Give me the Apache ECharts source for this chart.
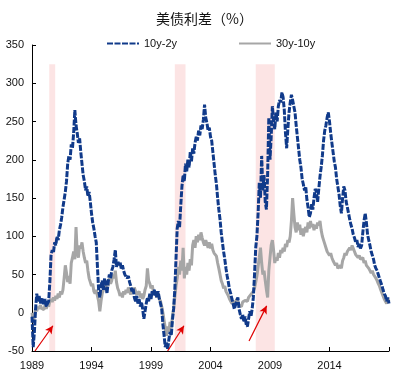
<!DOCTYPE html>
<html><head><meta charset="utf-8">
<script src="https://cdn.jsdelivr.net/npm/echarts@6/dist/echarts.min.js"></script>
<style>html,body{margin:0;padding:0;background:#fff}#c{width:409px;height:387px}</style>
</head><body><div id="c"></div>
<script>
// sample grid: one value every 0.1 year starting 1989.0
const startYear = 1989;
const stepYear = 0.1;

const spread10y2y = [
 -5,-45,-25,5,25,15,22,12,20,15,
 10,18,8,12,15,40,75,82,78,92,
 88,100,95,108,115,125,138,148,158,172,
 195,205,200,220,215,235,265,245,235,222,
 228,210,195,180,172,160,165,152,158,145,
 130,118,110,100,92,60,30,20,35,42,
 30,45,38,25,40,50,45,55,60,70,
 82,60,68,62,66,58,62,55,50,52,
 45,48,40,35,28,32,20,15,22,12,
 18,8,14,5,-8,2,12,20,15,25,
 18,28,22,30,25,20,28,18,12,5,
 -15,-30,-45,-38,-48,-35,-25,-30,-10,5,
 30,70,110,120,112,140,165,180,172,195,
 185,200,190,210,198,215,208,222,230,225,
 238,232,245,240,252,272,255,248,238,242,
 230,225,210,195,180,168,150,135,122,105,
 92,80,70,58,48,40,30,25,18,12,
 5,10,15,20,5,-2,-8,-2,-12,-5,
 -15,-18,-8,2,-5,5,20,50,85,100,
 130,170,150,205,160,180,145,135,180,255,
 200,230,270,250,240,262,250,270,278,275,
 288,282,265,235,215,240,262,275,285,278,
 270,262,245,230,215,200,190,175,168,160,
 165,148,138,125,130,142,135,150,162,158,
 145,162,178,190,205,225,238,245,255,262,
 250,235,222,210,198,190,175,165,155,140,
 130,150,165,160,145,138,130,122,115,110,
 102,98,92,95,86,90,84,88,105,120,
 130,118,102,95,88,80,75,70,62,58,
 55,50,45,40,36,30,25,22,15,20,
 12
];

const spread30y10y = [
 0,-12,-5,5,2,8,5,10,6,8,
 4,10,5,12,8,15,18,14,20,16,
 22,18,25,20,28,24,30,45,62,52,
 40,48,38,65,72,80,70,112,78,72,
 88,84,92,80,72,65,68,55,45,40,
 35,38,28,25,30,22,15,2,15,25,
 30,38,32,42,35,45,38,42,50,45,
 55,40,32,28,22,26,20,28,24,30,
 26,33,28,24,30,26,33,28,24,22,
 28,20,25,18,22,30,35,58,42,38,
 32,36,28,30,24,20,25,18,15,8,
 0,-10,-20,-30,-18,-25,-12,-20,-5,5,
 20,35,45,60,50,68,55,85,45,60,
 50,65,55,70,62,88,95,85,100,92,
 102,95,105,98,92,88,95,90,85,92,
 84,90,82,78,80,74,65,58,50,42,
 38,32,35,28,25,22,18,15,12,10,
 15,12,18,15,10,12,8,14,12,16,
 18,15,20,18,24,22,28,32,40,48,
 60,72,85,65,50,55,42,30,20,55,
 72,88,95,82,65,72,68,78,72,82,
 78,85,80,90,86,95,92,100,120,150,
 130,112,105,118,108,115,102,110,100,108,
 112,105,118,110,120,112,116,108,115,110,
 118,114,120,108,100,95,90,85,80,82,
 75,78,72,68,70,62,65,58,60,62,
 58,68,72,78,75,80,78,85,82,88,
 84,80,76,78,72,75,70,68,72,65,
 68,62,60,58,55,52,55,50,48,45,
 42,38,35,30,28,22,18,15,12,18,
 15
];

const seriesNames = ['10y-2y', '30y-10y'];
const titleText = '美债利差（%）';
const xRange = [1989, 2019];
const xInterval = 5;
const yRange = [-50, 350];
const yInterval = 50;
const recessions = [[1990.45, 1990.95], [2001.0, 2001.9], [2007.8, 2009.4]];
const shadeRange = [-50, 325];
const arrows = [
  [[1989.25, -50], [1990.76, -17]],
  [[2000.4, -50], [2001.77, -17]],
  [[2007.24, -37], [2008.72, 9]]
];

function pairs(vals) {
  return vals.map((v, i) => [+(startYear + i * stepYear).toFixed(2), v]);
}

const blue = '#103A8A';
const gray = '#A6A6A6';
const numFont = 'Liberation Sans';

const legendCommon = {
  top: 38, padding: 0, itemWidth: 32, itemHeight: 12,
  itemStyle: {opacity: 0},
  textStyle: {fontSize: 11, color: '#111', fontFamily: numFont}
};

const chart = echarts.init(document.getElementById('c'), null, {renderer: 'canvas'});
chart.setOption({
  animation: false,
  backgroundColor: '#fff',
  title: {
    text: titleText, left: 'center', top: 7,
    textStyle: {fontSize: 14, fontWeight: 'normal', color: '#111', fontFamily: 'Noto Sans CJK SC'}
  },
  legend: [
    Object.assign({data: [seriesNames[0]], left: 106}, legendCommon),
    Object.assign({data: [seriesNames[1]], left: 238}, legendCommon)
  ],
  grid: {left: 32, right: 20, top: 45, bottom: 36, containLabel: false},
  xAxis: [
    {type: 'value', min: xRange[0], max: xRange[1], interval: xInterval, position: 'bottom',
     axisLine: {show: false}, axisTick: {show: false}, splitLine: {show: false},
     axisLabel: {color: '#111', fontSize: 11, fontFamily: numFont, margin: 9, showMaxLabel: false,
                 formatter: v => String(v)}},
    {type: 'value', min: xRange[0], max: xRange[1], interval: xInterval, position: 'bottom',
     axisLine: {show: true, onZero: true, lineStyle: {color: '#000', width: 1}},
     axisTick: {show: true, inside: true, length: 4, lineStyle: {color: '#000'}},
     axisLabel: {show: false}, splitLine: {show: false}}
  ],
  yAxis: {
    type: 'value', min: yRange[0], max: yRange[1], interval: yInterval,
    axisLine: {show: true, onZero: false, lineStyle: {color: '#000', width: 1}},
    axisTick: {show: true, inside: true, length: 4, lineStyle: {color: '#000'}},
    axisLabel: {color: '#111', fontSize: 11, fontFamily: numFont, margin: 8},
    splitLine: {show: false}
  },
  series: [
    {
      name: 'shade', type: 'line', data: [], z: 0, silent: true,
      markArea: {
        silent: true,
        itemStyle: {color: '#FCE4E4'},
        data: recessions.map(r => [{coord: [r[0], shadeRange[1]]}, {coord: [r[1], shadeRange[0]]}])
      }
    },
    {
      name: seriesNames[1], type: 'line', data: pairs(spread30y10y), symbol: 'none', z: 2,
      lineStyle: {color: gray, width: 3}, itemStyle: {color: gray}
    },
    {
      name: seriesNames[0], type: 'line', data: pairs(spread10y2y), symbol: 'none', z: 3,
      lineStyle: {color: blue, width: 3, type: [6, 1.5]}, itemStyle: {color: blue},
      markLine: {
        silent: true, symbol: ['none', 'arrow'], symbolSize: [6, 8],
        label: {show: false},
        lineStyle: {color: '#E00000', width: 1.2, type: 'solid'},
        data: arrows.map(a => [{coord: a[0]}, {coord: a[1]}])
      }
    }
  ]
});
</script>
</body></html>
